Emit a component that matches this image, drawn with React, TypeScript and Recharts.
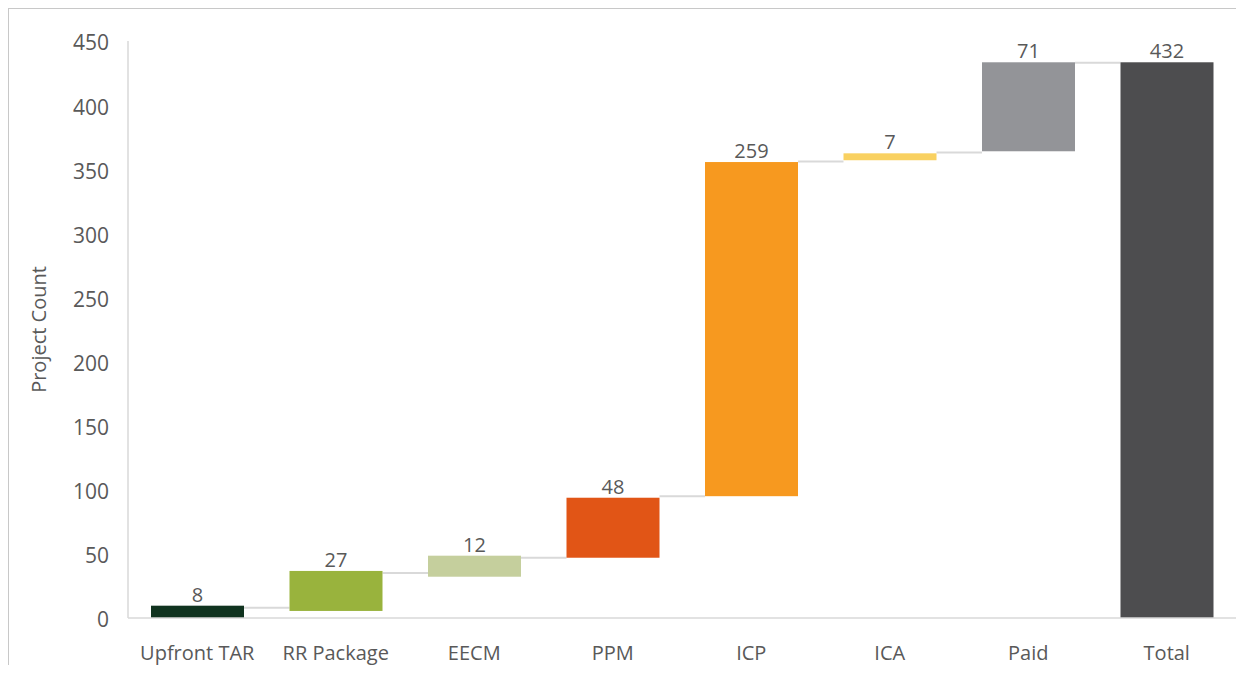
import { BarChart, Bar, XAxis, YAxis, LabelList, Cell, Label } from 'recharts'

const categories = ['Upfront TAR', 'RR Package', 'EECM', 'PPM', 'ICP', 'ICA', 'Paid', 'Total']
const stepLabels = [8, 27, 12, 48, 259, 7, 71, 432]
// floating bar extents as drawn in the picture
const barBottoms = [-2.3, 5.5, 32.2, 47.0, 95.0, 357.0, 364.0, 0]
const barTops = [9.6, 36.7, 48.6, 93.8, 355.6, 362.4, 433.4, 433.4]
// level of the thin connector running to the next bar
const connectorLevels: (number | null)[] = [8, 35, 47, 95, 356, 363, 433, null]
const yTicks = [0, 50, 100, 150, 200, 250, 300, 350, 400, 450]

const barColors = ['#10331f', '#99b33d', '#c5cf9d', '#e15516', '#f7991f', '#f9d161', '#939498', '#4d4d4f']

const data = categories.map((name, i) => ({
  name,
  range: [barBottoms[i], barTops[i]],
  label: stepLabels[i],
  conn: connectorLevels[i],
}))

const FONT = '"Open Sans", sans-serif'
const TEXT = '#595959'
const CHART_W = 1235
const CHART_H = 664
const Y_AXIS_W = 119
const RIGHT = 8
const BAND = (CHART_W - Y_AXIS_W - RIGHT) / categories.length
const BAR_W = 93

const WaterfallBar = (props: any) => {
  const { x, y, width, height, payload, fill } = props
  const [low, high] = payload.range
  const perUnit = height / (high - low)
  const gap = BAND - width
  let connector = null
  if (payload.conn != null) {
    const cy = y + (high - payload.conn) * perUnit
    connector = (
      <line x1={x + width} x2={x + width + gap} y1={cy} y2={cy} stroke="#d9d9d9" strokeWidth={2} />
    )
  }
  return (
    <g>
      {connector}
      <rect x={x} y={y} width={width} height={height} fill={fill} />
    </g>
  )
}

export default function App() {
  return (
    <div
      style={{
        width: 1236,
        height: 665,
        boxSizing: 'border-box',
        borderTop: '1px solid #c8c8c8',
        borderLeft: '1px solid #c8c8c8',
        marginBottom: -8,
        fontFamily: FONT,
      }}
    >
      <BarChart
        width={CHART_W}
        height={CHART_H}
        data={data}
        margin={{ top: 32, right: RIGHT, bottom: 0, left: 0 }}
        style={{ fontFamily: FONT }}
      >
        <XAxis
          dataKey="name"
          height={55}
          axisLine={{ stroke: '#d9d9d9', strokeWidth: 1.5 }}
          tickLine={false}
          tickSize={0}
          tickMargin={28}
          tick={{ fill: TEXT, fontSize: 20 }}
          interval={0}
        />
        <YAxis
          width={Y_AXIS_W}
          domain={[0, 450]}
          ticks={yTicks}
          allowDataOverflow
          axisLine={{ stroke: '#d9d9d9', strokeWidth: 1.5 }}
          tickLine={false}
          tickSize={0}
          tickMargin={19}
          tick={{ fill: TEXT, fontSize: 21, dy: 2 }}
        >
          <Label
            content={({ viewBox }: any) => {
              const cx = viewBox.x + 29
              const cy = viewBox.y + viewBox.height / 2
              return (
                <text
                  x={cx}
                  y={cy}
                  transform={`rotate(-90, ${cx}, ${cy})`}
                  textAnchor="middle"
                  dominantBaseline="central"
                  fill={TEXT}
                  fontSize={20}
                >
                  Project Count
                </text>
              )
            }}
          />
        </YAxis>
        <Bar dataKey="range" barSize={BAR_W} shape={WaterfallBar} isAnimationActive={false}>
          {data.map((entry, i) => (
            <Cell key={entry.name} fill={barColors[i]} />
          ))}
          <LabelList dataKey="label" position="top" offset={4} fill={TEXT} fontSize={20} />
        </Bar>
      </BarChart>
    </div>
  )
}
